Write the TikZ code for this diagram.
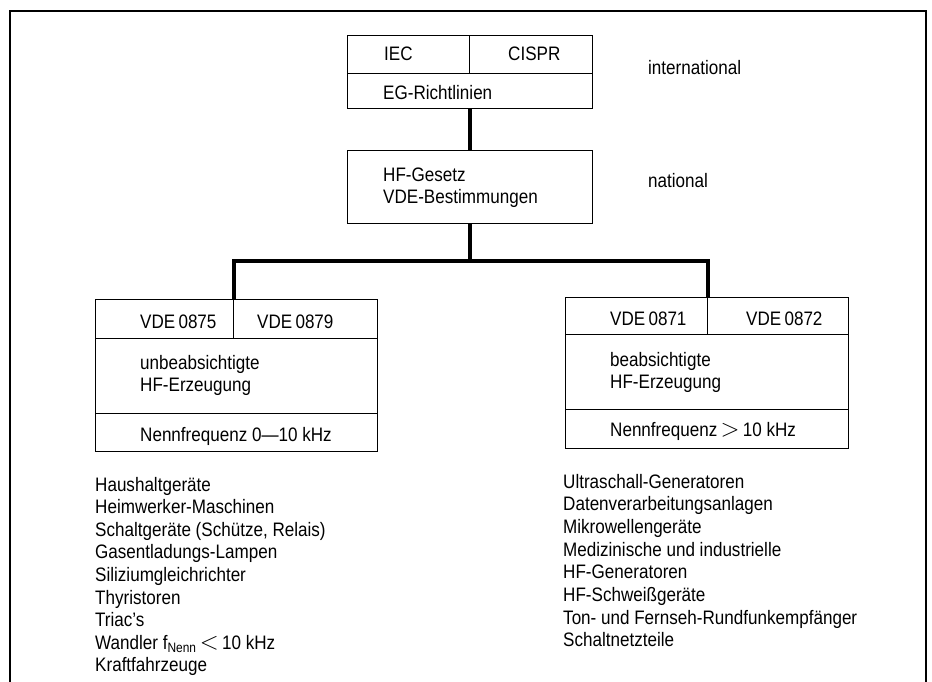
\documentclass[tikz,border=0pt]{standalone}
\usepackage{fontspec}
\setmainfont{Liberation Sans}[FakeStretch=0.875]
\newcommand{\bigrel}[1]{{\fontsize{24}{24}\selectfont$#1$}}
\begin{document}
\begin{tikzpicture}[x=1pt,y=-1pt,
  cell/.style={draw, line width=1.1pt, inner sep=0pt, anchor=north west},
  txt/.style={anchor=base west, inner sep=0pt, font=\fontsize{19.5}{22}\selectfont},
  conn/.style={line width=3.6pt}]
\useasboundingbox (0,0) rectangle (932,682);
\draw [line width=1.4pt] (10,682) -- (10,11) -- (926,11) -- (926,682);
% international
\node [cell, minimum width=122pt, minimum height=38pt] (iec) at (347,35) {};
\node [cell, minimum width=123pt, minimum height=38pt] (cispr) at (469,35) {};
\node [cell, minimum width=245pt, minimum height=35pt] (eg) at (347,73) {};
\node [txt] (iectxt) at (384,61) {IEC};
\node [txt] (cisprtxt) at (508,61) {CISPR};
\node [txt] (egtxt) at (383,100) {EG-Richtlinien};
\node [txt] (intl) at (648,75) {international};
% national
\node [cell, minimum width=245pt, minimum height=73pt] (hf) at (347,150) {};
\node [txt] (hftxt) at (383,182) {HF-Gesetz};
\node [txt] (vdetxt) at (383,204) {VDE-Bestimmungen};
\node [txt] (natl) at (648,188) {national};
% left branch
\node [cell, minimum width=138pt, minimum height=39pt] (vdea) at (95,299) {};
\node [cell, minimum width=144pt, minimum height=39pt] (vdeb) at (233,299) {};
\node [cell, minimum width=282pt, minimum height=75pt] (unbeab) at (95,338) {};
\node [cell, minimum width=282pt, minimum height=38pt] (nenna) at (95,413) {};
\node [txt] (vdeatxt) at (140,328) {VDE\,0875};
\node [txt] (vdebtxt) at (257,328) {VDE\,0879};
\node [txt] (unbeabtxt) at (140,369) {unbeabsichtigte};
\node [txt] (hfatxt) at (140,391) {HF-Erzeugung};
\node [txt] (nennatxt) at (140,441) {Nennfrequenz 0—10 kHz};
% right branch
\node [cell, minimum width=142pt, minimum height=37pt] (vdec) at (565,297) {};
\node [cell, minimum width=141pt, minimum height=37pt] (vded) at (707,297) {};
\node [cell, minimum width=283pt, minimum height=75pt] (beab) at (565,334) {};
\node [cell, minimum width=283pt, minimum height=39pt] (nennb) at (565,409) {};
\node [txt] (vdectxt) at (610,325) {VDE\,0871};
\node [txt] (vdedtxt) at (746,325) {VDE\,0872};
\node [txt] (beabtxt) at (610,366) {beabsichtigte};
\node [txt] (hfbtxt) at (610,388) {HF-Erzeugung};
\node [txt] (nennbtxt) at (610,436) {Nennfrequenz\,\bigrel{>}\,10 kHz};
% connectors
\draw [conn] (eg.south) -- (hf.north);
\draw [conn] (hf.south) -- ++(0,37) coordinate (fork);
\draw [conn, line join=miter] (vdea.north east) |- (fork) -| (vdec.north east);
% lists
\node [txt] (l1) at (95,491) {Haushaltgeräte};
\node [txt] (l2) at (95,513.6) {Heimwerker-Maschinen};
\node [txt] (l3) at (95,536.2) {Schaltgeräte (Schütze, Relais)};
\node [txt] (l4) at (95,558.8) {Gasentladungs-Lampen};
\node [txt] (l5) at (95,581.4) {Siliziumgleichrichter};
\node [txt] (l6) at (95,604) {Thyristoren};
\node [txt] (l7) at (95,626.6) {Triac’s};
\node [txt] (l8) at (95,649.2) {Wandler f\textsubscript{Nenn}\,\bigrel{<}\,10 kHz};
\node [txt] (l9) at (95,671.8) {Kraftfahrzeuge};
\node [txt] (r1) at (563,488) {Ultraschall-Generatoren};
\node [txt] (r2) at (563,510.7) {Datenverarbeitungsanlagen};
\node [txt] (r3) at (563,533.4) {Mikrowellengeräte};
\node [txt] (r4) at (563,556.1) {Medizinische und industrielle};
\node [txt] (r5) at (563,578.8) {HF-Generatoren};
\node [txt] (r6) at (563,601.5) {HF-Schweißgeräte};
\node [txt] (r7) at (563,624.2) {Ton- und Fernseh-Rundfunkempfänger};
\node [txt] (r8) at (563,646.9) {Schaltnetzteile};
\end{tikzpicture}
\end{document}
